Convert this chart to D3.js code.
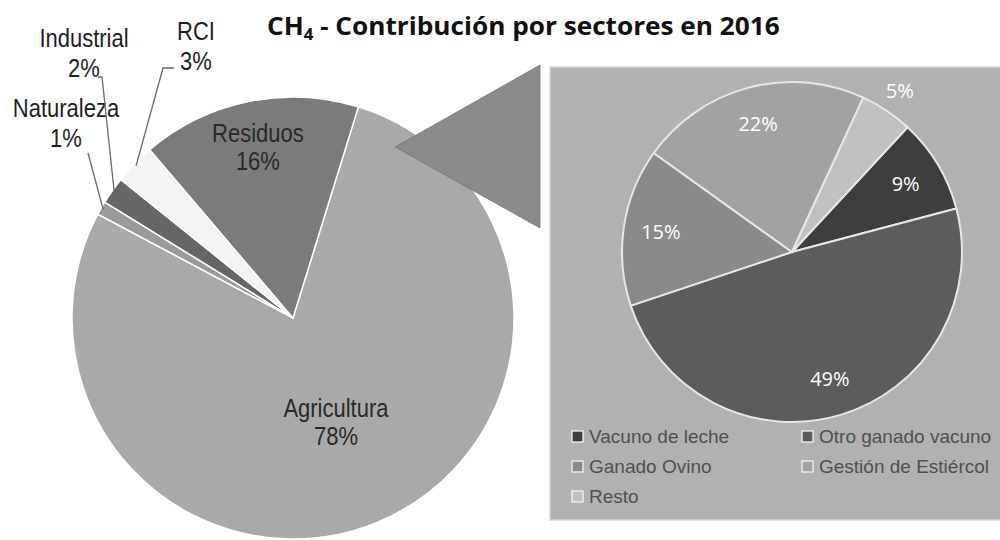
<!DOCTYPE html>
<html>
<head>
<meta charset="utf-8">
<script src="https://cdn.jsdelivr.net/npm/d3@7"></script>
<style>body{margin:0;background:#fff}</style>
</head>
<body>
<div id="chart"></div>
<script>
// CH4 - contribution by sector in 2016, with breakdown of agriculture
var mainLabels = ["Agricultura", "Naturaleza", "Industrial", "RCI", "Residuos"];
var mainValues = [78, 1, 2, 3, 16];
var mainColors = ["#a9a9a9", "#9a9a9a", "#666666", "#f4f4f4", "#7b7b7b"];

var subLabels = ["Vacuno de leche", "Otro ganado vacuno", "Ganado Ovino", "Gestión de Estiércol", "Resto"];
var subValues = [9, 49, 15, 22, 5];
var subColors = ["#3e3e3e", "#5c5c5c", "#8a8a8a", "#a2a2a2", "#c0c0c0"];

var width = 1000, height = 540;
var deg = Math.PI / 180;

var svg = d3.select("#chart").append("svg")
  .attr("width", width)
  .attr("height", height)
  .style("font-family", "'Liberation Sans', Arial, sans-serif");

svg.append("rect").attr("width", width).attr("height", height).attr("fill", "#fff");

// ---- main pie ----
var cx = 293, cy = 318, R = 221;
var mainStart = 17.2 * deg;
var pie = d3.pie().sort(null).value(function(d){ return d; })
  .startAngle(mainStart).endAngle(mainStart + 2 * Math.PI);
var mainArcs = pie(mainValues);
var arc = d3.arc().innerRadius(0).outerRadius(R);

var gMain = svg.append("g").attr("transform", "translate(" + cx + "," + cy + ")");
gMain.selectAll("path")
  .data(mainArcs)
  .enter()
  .append("path")
  .attr("d", arc)
  .attr("fill", function(d, i){ return mainColors[i]; })
  .attr("stroke", "#fff")
  .attr("stroke-width", 1.5);

// labels inside big slices
function labelArc(d) {
  var r = d.data > 50 ? R * 0.51 : R * 0.79;
  return d3.arc().innerRadius(r).outerRadius(r).centroid(d);
}
var narrow = 0.88;
mainArcs.forEach(function(d, i) {
  if (d.data < 10) return;
  var p = labelArc(d);
  var g = gMain.append("g").attr("transform", "translate(" + p[0] + "," + p[1] + ")");
  g.append("text").attr("y", -5).attr("transform", "scale(" + narrow + ",1)")
    .attr("text-anchor", "middle").attr("font-size", 25).attr("fill", "#2a2a2a")
    .text(mainLabels[i]);
  g.append("text").attr("y", 23).attr("transform", "scale(" + narrow + ",1)")
    .attr("text-anchor", "middle").attr("font-size", 25).attr("fill", "#2a2a2a")
    .text(mainValues[i] + "%");
});

// callouts for small slices
var callouts = {
  "Naturaleza": {x: 66, y: 117, from: [[88, 153]]},
  "Industrial": {x: 84, y: 47, from: [[98, 77], [102, 77]]},
  "RCI": {x: 196, y: 40, from: [[174, 68], [163, 68]]}
};
var leader = d3.line();
mainArcs.forEach(function(d, i) {
  var c = callouts[mainLabels[i]];
  if (!c) return;
  var edge = d3.arc().innerRadius(R * 0.99).outerRadius(R * 0.99).centroid(d);
  var pts = c.from.concat([[edge[0] + cx, edge[1] + cy]]);
  svg.append("path").attr("d", leader(pts))
    .attr("fill", "none").attr("stroke", "#6a6a6a").attr("stroke-width", 1.3);
  var g = svg.append("g").attr("transform", "translate(" + c.x + "," + c.y + ")");
  g.append("text").attr("transform", "scale(" + narrow + ",1)")
    .attr("text-anchor", "middle").attr("font-size", 25).attr("fill", "#1e1e1e")
    .text(mainLabels[i]);
  g.append("text").attr("y", 30).attr("transform", "scale(" + narrow + ",1)")
    .attr("text-anchor", "middle").attr("font-size", 25).attr("fill", "#1e1e1e")
    .text(mainValues[i] + "%");
});

// ---- connector triangle ----
var tri = [[395, 147], [540, 65], [540, 228]];
svg.append("path")
  .attr("d", d3.line()(tri) + "Z")
  .attr("fill", "#8b8b8b")
  .attr("stroke", "#7a7a7a")
  .attr("stroke-width", 0.8);

// ---- breakdown panel ----
svg.append("rect")
  .attr("x", 550).attr("y", 67)
  .attr("width", 460).attr("height", 453)
  .attr("fill", "#b1b1b1")
  .attr("stroke", "#d6d6d6")
  .attr("stroke-width", 1.5);

var sx = 792, sy = 252, r2 = 170;
var subStart = 42.8 * deg;
var pie2 = d3.pie().sort(null).value(function(d){ return d; })
  .startAngle(subStart).endAngle(subStart + 2 * Math.PI);
var subArcs = pie2(subValues);
var arc2 = d3.arc().innerRadius(0).outerRadius(r2);

var gSub = svg.append("g").attr("transform", "translate(" + sx + "," + sy + ")");
gSub.selectAll("path")
  .data(subArcs)
  .enter()
  .append("path")
  .attr("d", arc2)
  .attr("fill", function(d, i){ return subColors[i]; })
  .attr("stroke", "#e6e6e6")
  .attr("stroke-width", 2);

gSub.selectAll(".pct")
  .data(subArcs)
  .enter()
  .append("text")
  .attr("class", "pct")
  .attr("transform", function(d) {
    var r = d.data < 6 ? r2 * 1.14 : r2 * 0.78;
    var p = d3.arc().innerRadius(r).outerRadius(r).centroid(d);
    return "translate(" + p[0] + "," + (p[1] + 7) + ")";
  })
  .attr("text-anchor", "middle")
  .attr("font-family", "'Open Sans', sans-serif")
  .attr("font-size", 20)
  .attr("fill", "#fff")
  .text(function(d){ return d.data + "%"; });

// legend
var legCols = [572, 802], legRows = [437, 467, 497];
var leg = svg.append("g");
subLabels.forEach(function(name, i) {
  var x = legCols[i % 2], y = legRows[Math.floor(i / 2)];
  leg.append("rect").attr("x", x).attr("y", y - 6).attr("width", 11).attr("height", 11)
    .attr("fill", subColors[i]).attr("stroke", "#f2f2f2").attr("stroke-width", 1.3);
  leg.append("text").attr("x", x + 17).attr("y", y + 6)
    .attr("font-size", 19).attr("fill", "#505050")
    .text(name);
});

// ---- title ----
var title = svg.append("text")
  .attr("x", 0).attr("y", 0)
  .attr("font-family", "'Open Sans', sans-serif")
  .attr("font-weight", 700)
  .attr("font-size", 25)
  .attr("fill", "#111");
title.append("tspan").text("CH");
title.append("tspan").attr("font-size", 16).attr("dy", 5).text("4");
title.append("tspan").attr("dy", -5).text(" - Contribución por sectores en 2016");
var tw = title.node().getComputedTextLength();
title.attr("transform", "translate(267,35) scale(" + (513 / tw) + ",1)");
</script>
</body>
</html>
